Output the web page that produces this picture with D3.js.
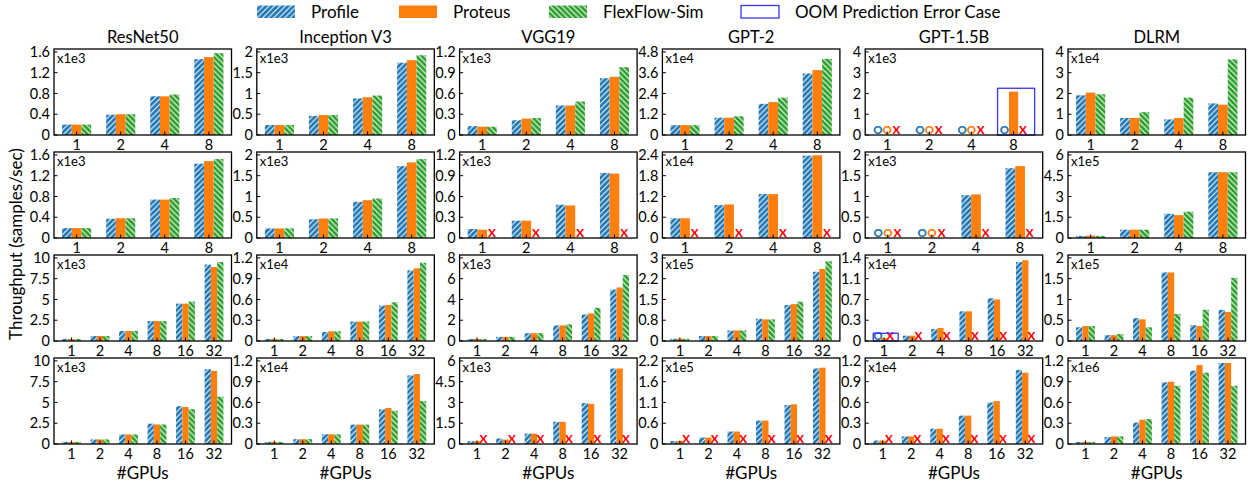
<!DOCTYPE html>
<html>
<head>
<meta charset="utf-8">
<script src="https://cdn.jsdelivr.net/npm/d3@7"></script>
<style>
  body { margin: 0; background: #fff; }
  svg { font-family: Lato, "Open Sans", sans-serif; }
</style>
</head>
<body>
<svg id="chart" width="1248" height="483"></svg>
<script>
// ---- data ----
const models = ["ResNet50", "Inception V3", "VGG19", "GPT-2", "GPT-1.5B", "DLRM"];
const seriesNames = ["Profile", "Proteus", "FlexFlow-Sim"];
const seriesColors = ["#1f77b4", "#ff7f0e", "#2ca02c"];
const gpusSmall = ["1", "2", "4", "8"];
const gpusLarge = ["1", "2", "4", "8", "16", "32"];
const rowGpus = [gpusSmall, gpusSmall, gpusLarge, gpusLarge];

// exponent shown as "x1eN" in each panel
const rowExp = [
  [3, 3, 3, 4, 3, 4],
  [3, 3, 3, 4, 3, 5],
  [3, 4, 3, 5, 4, 5],
  [3, 4, 3, 5, 4, 6]
];

const rowYTicks = [
  [[0, 0.4, 0.8, 1.2, 1.6], [0, 0.5, 1, 1.5, 2], [0, 0.3, 0.6, 0.9, 1.2], [0, 1.2, 2.4, 3.6, 4.8], [0, 1, 2, 3, 4], [0, 1, 2, 3, 4]],
  [[0, 0.4, 0.8, 1.2, 1.6], [0, 0.5, 1, 1.5, 2], [0, 0.3, 0.6, 0.9, 1.2], [0, 0.6, 1.2, 1.8, 2.4], [0, 0.5, 1, 1.5, 2], [0, 1.5, 3, 4.5, 6]],
  [[0, 2.5, 5, 7.5, 10], [0, 0.3, 0.6, 0.9, 1.2], [0, 2, 4, 6, 8], [0, 0.75, 1.5, 2.25, 3], [0, 0.35, 0.7, 1.05, 1.4], [0, 0.5, 1, 1.5, 2]],
  [[0, 2.5, 5, 7.5, 10], [0, 0.3, 0.6, 0.9, 1.2], [0, 1.5, 3, 4.5, 6], [0, 0.55, 1.1, 1.65, 2.2], [0, 0.3, 0.6, 0.9, 1.2], [0, 0.3, 0.6, 0.9, 1.2]]
];

// values[model][gpu] = [Profile, Proteus, FlexFlow-Sim]; null = OOM / unsupported marker
const row1 = [
  [[0.2, 0.2, 0.2], [0.39, 0.4, 0.4], [0.745, 0.745, 0.78], [1.46, 1.5, 1.575]],
  [[0.24, 0.24, 0.24], [0.46, 0.48, 0.48], [0.88, 0.91, 0.95], [1.74, 1.8, 1.92]],
  [[0.128, 0.12, 0.12], [0.213, 0.237, 0.246], [0.426, 0.426, 0.483], [0.82, 0.84, 0.98]],
  [[0.57, 0.57, 0.57], [1.0, 1.0, 1.08], [1.8, 1.9, 2.16], [3.55, 3.75, 4.4]],
  [[null, null, null], [null, null, null], [null, null, null], [null, 2.09, null]],
  [[1.91, 2.04, 1.96], [0.82, 0.82, 1.1], [0.75, 0.82, 1.8], [1.52, 1.46, 3.64]]
];
const row2 = [
  [[0.19, 0.19, 0.19], [0.37, 0.38, 0.38], [0.74, 0.74, 0.77], [1.43, 1.48, 1.52]],
  [[0.23, 0.23, 0.23], [0.45, 0.47, 0.47], [0.87, 0.91, 0.95], [1.73, 1.82, 1.9]],
  [[0.13, 0.12, null], [0.25, 0.25, null], [0.48, 0.47, null], [0.94, 0.93, null]],
  [[0.57, 0.57, null], [0.95, 0.97, null], [1.27, 1.27, null], [2.38, 2.39, null]],
  [[null, null, null], [null, null, null], [1.03, 1.05, null], [1.68, 1.73, null]],
  [[0.15, 0.17, 0.15], [0.6, 0.6, 0.6], [1.75, 1.65, 1.9], [4.75, 4.75, 4.75]]
];
const row3 = [
  [[0.25, 0.25, 0.25], [0.6, 0.6, 0.6], [1.2, 1.2, 1.2], [2.4, 2.4, 2.4], [4.5, 4.5, 4.75], [9.2, 8.9, 9.5]],
  [[0.03, 0.03, 0.03], [0.07, 0.07, 0.07], [0.13, 0.14, 0.14], [0.28, 0.28, 0.28], [0.51, 0.52, 0.56], [1.02, 1.05, 1.13]],
  [[0.2, 0.2, 0.2], [0.4, 0.4, 0.4], [0.75, 0.75, 0.75], [1.5, 1.5, 1.6], [2.55, 2.65, 3.2], [4.95, 5.15, 6.35]],
  [[0.08, 0.08, 0.08], [0.18, 0.18, 0.18], [0.38, 0.38, 0.38], [0.8, 0.78, 0.78], [1.3, 1.33, 1.42], [2.5, 2.6, 2.88]],
  [[null, 0.05, null], [0.09, 0.09, null], [0.2, 0.22, null], [0.5, 0.5, null], [0.72, 0.7, null], [1.33, 1.36, null]],
  [[0.33, 0.36, 0.36], [0.14, 0.14, 0.17], [0.55, 0.52, 0.33], [1.65, 1.65, 0.65], [0.38, 0.36, 0.75], [0.75, 0.7, 1.52]]
];
const row4 = [
  [[0.25, 0.25, 0.25], [0.55, 0.55, 0.55], [1.15, 1.15, 1.15], [2.45, 2.35, 2.35], [4.55, 4.45, 4.2], [9.0, 8.8, 5.7]],
  [[0.03, 0.03, 0.03], [0.07, 0.07, 0.07], [0.14, 0.14, 0.14], [0.28, 0.28, 0.28], [0.5, 0.52, 0.48], [0.99, 1.01, 0.62]],
  [[0.2, 0.2, null], [0.4, 0.32, null], [0.75, 0.75, null], [1.6, 1.6, null], [2.95, 2.9, null], [5.45, 5.45, null]],
  [[0.08, 0.08, null], [0.17, 0.17, null], [0.33, 0.33, null], [0.62, 0.62, null], [1.03, 1.05, null], [2.0, 2.02, null]],
  [[0.05, 0.05, null], [0.11, 0.11, null], [0.22, 0.22, null], [0.41, 0.41, null], [0.6, 0.62, null], [1.07, 1.03, null]],
  [[0.03, 0.03, 0.03], [0.1, 0.11, 0.11], [0.31, 0.35, 0.36], [0.89, 0.9, 0.84], [1.06, 1.14, 1.03], [1.17, 1.17, 0.84]]
];
const rows = [row1, row2, row3, row4];

// "OOM Prediction Error Case" boxes
const oomBoxes = [
  { row: 0, col: 4, group: 3, top: 2.25 },
  { row: 2, col: 4, group: 0, top: 0.13 }
];

// ---- layout ----
const svg = d3.select("#chart");
const left0 = 54, colStep = 202.8, panelW = 177.5;
const top0 = 49, rowStep = 103, panelH = 86;
const barW = 0.22;
const tickFont = 14.5;
const boxColor = "#3535f2";

// matplotlib-like tick text (round half to even on exact ties)
function fmt(v) {
  if (Number.isInteger(v)) return String(v);
  if (Number.isInteger(v * 4) && !Number.isInteger(v * 2)) {
    const r = Math.round(v * 10 - 0.5);
    return String((r % 2 === 0 ? r : r + 1) / 10);
  }
  return String(+v.toFixed(1));
}

// hatch patterns
const defs = svg.append("defs");
function hatch(id, color, dir) {
  const s = 5.5;
  const p = defs.append("pattern")
    .attr("id", id)
    .attr("patternUnits", "userSpaceOnUse")
    .attr("width", s)
    .attr("height", s);
  p.append("rect").attr("width", s).attr("height", s).attr("fill", color);
  const d = dir > 0
    ? `M0,${s} L${s},0 M${-s / 2},${s / 2} L${s / 2},${-s / 2} M${s / 2},${s * 1.5} L${s * 1.5},${s / 2}`
    : `M0,0 L${s},${s} M${-s / 2},${s / 2} L${s / 2},${s * 1.5} M${s / 2},${-s / 2} L${s * 1.5},${s / 2}`;
  p.append("path").attr("d", d).attr("stroke", "#fff").attr("stroke-width", 1.1);
}
hatch("hatch-blue", seriesColors[0], 1);
hatch("hatch-green", seriesColors[2], -1);
const seriesFill = ["url(#hatch-blue)", seriesColors[1], "url(#hatch-green)"];

// ---- panels ----
rows.forEach((rowData, r) => {
  const gpus = rowGpus[r];
  rowData.forEach((vals, c) => {
    const px = left0 + c * colStep;
    const py = top0 + r * rowStep;
    const n = gpus.length;
    const boxes = oomBoxes.filter((b) => b.row === r && b.col === c);

    // autoscale x like matplotlib (5% margins)
    let lo = -1.5 * barW, hi = n - 1 + 1.5 * barW;
    boxes.forEach((b) => { lo = Math.min(lo, b.group - 0.38); hi = Math.max(hi, b.group + 0.5); });
    const m = (hi - lo) * 0.05;
    const x = d3.scaleLinear().domain([lo - m, hi + m]).range([px, px + panelW]);

    const ticks = rowYTicks[r][c];
    const yTop = ticks[ticks.length - 1];
    const y = d3.scaleLinear().domain([0, yTop * 1.035]).range([py + panelH, py]);

    const g = svg.append("g");

    // bars and markers
    vals.forEach((grp, gi) => {
      grp.forEach((v, s) => {
        const cx = gi + (s - 1) * barW;
        if (v != null) {
          g.append("rect")
            .attr("x", x(cx - barW / 2))
            .attr("width", x(barW) - x(0))
            .attr("y", y(v))
            .attr("height", y(0) - y(v))
            .attr("fill", seriesFill[s]);
        } else {
          g.append("text")
            .attr("x", x(cx))
            .attr("y", py + panelH - 1.5)
            .attr("text-anchor", "middle")
            .attr("font-size", 11.5)
            .attr("font-weight", 900)
            .attr("fill", s < 2 ? seriesColors[s] : "red")
            .text(s < 2 ? "O" : "X");
        }
      });
    });

    // OOM boxes
    boxes.forEach((b) => {
      g.append("rect")
        .attr("x", x(b.group - 0.38))
        .attr("width", x(b.group + 0.5) - x(b.group - 0.38))
        .attr("y", y(b.top))
        .attr("height", y(0) - y(b.top))
        .attr("fill", "none")
        .attr("stroke", boxColor)
        .attr("stroke-width", 1.3);
    });

    // x ticks (inward)
    gpus.forEach((lab, gi) => {
      g.append("line")
        .attr("x1", x(gi)).attr("x2", x(gi))
        .attr("y1", py + panelH).attr("y2", py + panelH - 3.5)
        .attr("stroke", "#000").attr("stroke-width", 1);
      g.append("text")
        .attr("x", x(gi))
        .attr("y", py + panelH + 15)
        .attr("text-anchor", "middle")
        .attr("font-size", tickFont)
        .text(lab);
    });

    // y ticks (inward)
    ticks.forEach((t) => {
      g.append("line")
        .attr("x1", px).attr("x2", px + 3.5)
        .attr("y1", y(t)).attr("y2", y(t))
        .attr("stroke", "#000").attr("stroke-width", 1);
      g.append("text")
        .attr("x", px - 4)
        .attr("y", y(t))
        .attr("dy", "0.36em")
        .attr("text-anchor", "end")
        .attr("font-size", tickFont)
        .text(fmt(t));
    });

    // frame
    g.append("rect")
      .attr("x", px).attr("y", py)
      .attr("width", panelW).attr("height", panelH)
      .attr("fill", "none")
      .attr("stroke", "#000")
      .attr("stroke-width", 1.3);

    // scale note
    g.append("text")
      .attr("x", px + 3)
      .attr("y", py + 14)
      .attr("font-size", 13)
      .text("x1e" + rowExp[r][c]);

    if (r === 0) {
      svg.append("text")
        .attr("x", px + panelW / 2)
        .attr("y", py - 6)
        .attr("text-anchor", "middle")
        .attr("font-size", 16.5)
        .text(models[c]);
    }
    if (r === rows.length - 1) {
      svg.append("text")
        .attr("x", px + panelW / 2)
        .attr("y", py + panelH + 35)
        .attr("text-anchor", "middle")
        .attr("font-size", 17)
        .text("#GPUs");
    }
  });
});

// y axis label
svg.append("text")
  .attr("transform", "translate(22,244) rotate(-90)")
  .attr("text-anchor", "middle")
  .attr("font-size", 17)
  .text("Throughput (samples/sec)");

// ---- legend ----
const legendItems = [
  { label: seriesNames[0], x: 257, fill: seriesFill[0] },
  { label: seriesNames[1], x: 399, fill: seriesFill[1] },
  { label: seriesNames[2], x: 549, fill: seriesFill[2] },
  { label: "OOM Prediction Error Case", x: 741, fill: "#fff", stroke: boxColor }
];
const legend = svg.append("g");
legendItems.forEach((it) => {
  legend.append("rect")
    .attr("x", it.x).attr("y", 5.5)
    .attr("width", 38).attr("height", 12.5)
    .attr("fill", it.fill)
    .attr("stroke", it.stroke || "none")
    .attr("stroke-width", 1.3);
  legend.append("text")
    .attr("x", it.x + 54)
    .attr("y", 18)
    .attr("font-size", 17)
    .text(it.label);
});
</script>
</body>
</html>
